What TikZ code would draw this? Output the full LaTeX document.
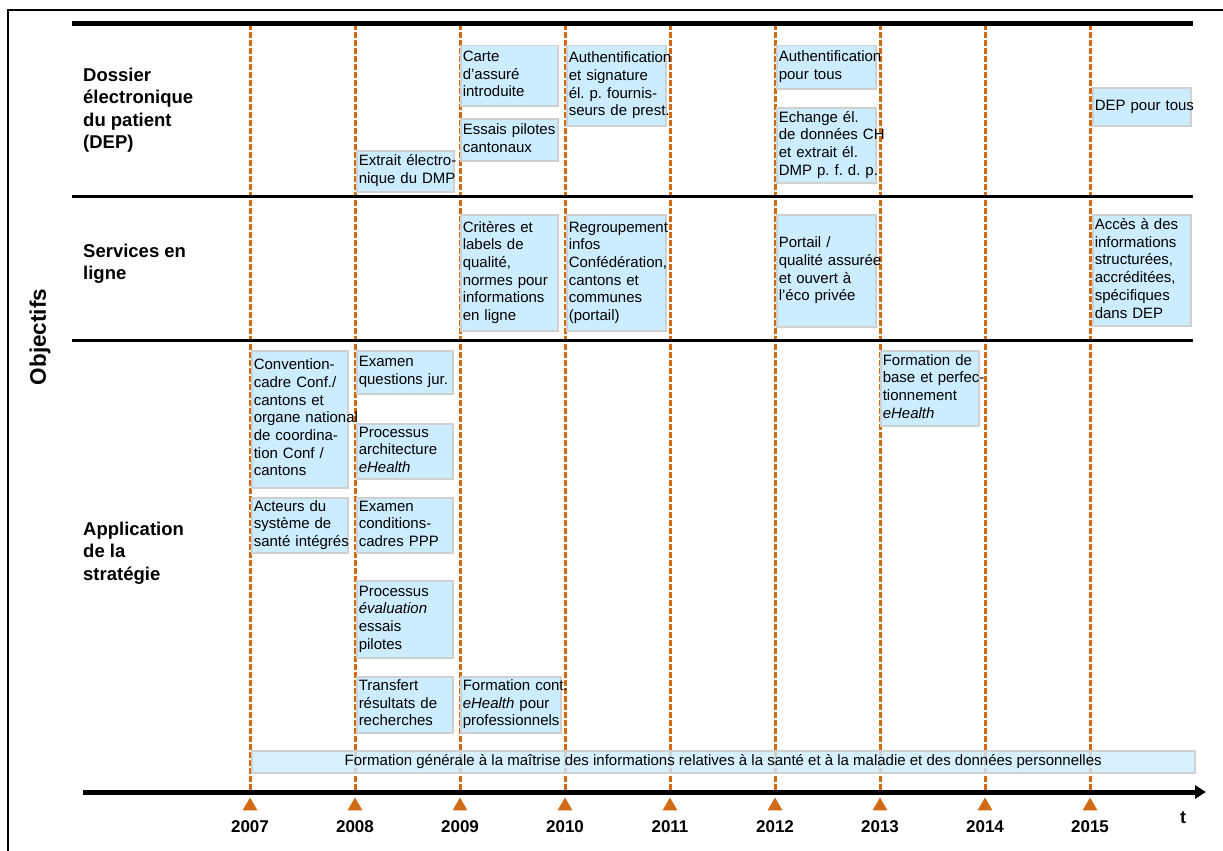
\documentclass[tikz,border=0pt]{standalone}
\usepackage{fontspec}
\setmainfont{Liberation Sans}
\usetikzlibrary{arrows.meta, shapes.geometric}
\definecolor{taskblue}{RGB}{204,236,255}
\definecolor{taskgray}{RGB}{208,208,208}
\definecolor{yearorange}{RGB}{210,105,20}

\begin{document}
\begin{tikzpicture}
[x=1pt, y=-1pt,
 task/.style={draw=taskgray, line width=1.5pt, fill=taskblue, inner xsep=2pt,
  inner ysep=1pt, anchor=north west, align=left,
  font=\fontsize{15}{17.7}\selectfont\frenchspacing},
 row label/.style={anchor=west, inner sep=0pt, align=left,
  font=\fontsize{18.5}{22.5}\selectfont\bfseries},
 year/.style={font=\fontsize{17}{20}\selectfont\bfseries},
 milestone/.style={regular polygon, regular polygon sides=3, fill=yearorange,
  inner sep=0pt, minimum size=17pt},
 grid/.style={yearorange, line width=3pt, dash pattern=on 6pt off 2pt},
 rule/.style={line width=3pt}]
\useasboundingbox (0,0) rectangle (1223,851);
\draw [line width=1.5pt] (8,851) -- (8,10) -- (1223,10);

\coordinate (axis start) at (83,792);
\coordinate (axis end) at (1206,792);

% years
\foreach \yr [count=\n from 0] in {2007,...,2015}{
	\pgfmathsetmacro{\xx}{250+105*\n}
	\coordinate (top \yr) at (\xx,24);
	\node [milestone] (tick \yr) at (\xx,806) {};
	\node [year] (year \yr) at (\xx,827) {\yr};
	\draw [grid] (top \yr) -- (top \yr |- axis start);
}
\draw [line width=5pt, -{Triangle[length=11pt, width=13pt]}] (axis start) -- (axis end);
\node [year, font=\fontsize{18}{20}\selectfont\bfseries] (time) at (1183,818) {t};

% rows
\draw [line width=5pt] (72,24) -- (1193,24);
\draw [rule] (72,196) -- (1193,196);
\draw [rule] (72,340) -- (1193,340);
\node [rotate=90, font=\fontsize{22.5}{26}\selectfont\bfseries] (goals) at (40,337) {Objectifs};
\node [row label] (dep) at (83,110) {Dossier\\électronique\\du patient\\(DEP)};
\node [row label] (online) at (83,264) {Services en\\ligne};
\node [row label] (strategy) at (83,553) {Application\\de la\\stratégie};

% tasks
\foreach \name/\x/\y/\w/\h/\txt in {
	dmp/356/150/97/41/{Extrait électro-\\nique du DMP},
	card/460/45/97/60/{Carte\\d'assuré\\introduite},
	pilots/460/118/97/42/{Essais pilotes\\cantonaux},
	auth/566/45/99/80/{Authentification\\et signature\\él. p. fournis-\\seurs de prest.},
	auth all/776/45/99/43/{Authentification\\pour tous},
	exchange/776/107/99/75/{Echange él.\\de données CH\\et extrait él.\\DMP p. f. d. p.},
	dep all/1092/87/98/38/{DEP pour tous},
	labels/460/214/97/116/{Critères et\\labels de\\qualité,\\normes pour\\informations\\en ligne},
	portal info/566/214/99/116/{Regroupement\\infos\\Confédération,\\cantons et\\communes\\(portail)},
	portal/776/214/99/112/{Portail /\\qualité assurée\\et ouvert à\\l'éco privée},
	access/1092/214/98/111/{Accès à des\\informations\\structurées,\\accréditées,\\spécifiques\\dans DEP},
	convention/251/350/96/137/{Convention-\\cadre Conf./\\cantons et\\organe national\\de coordina-\\tion Conf /\\cantons},
	legal/356/350/96/43/{Examen\\questions jur.},
	architecture/356/423/96/55/{Processus\\architecture\\\emph{eHealth}},
	actors/251/497/96/54/{Acteurs du\\système de\\santé intégrés},
	ppp/356/497/96/55/{Examen\\conditions-\\cadres PPP},
	evaluation/356/580/96/77/{Processus\\\emph{évaluation}\\essais\\pilotes},
	transfer/356/676/96/56/{Transfert\\résultats de\\recherches},
	training/460/676/100/56/{Formation cont.\\\emph{eHealth} pour\\professionnels},
	basic training/880/350/98/75/{Formation de\\base et perfec-\\tionnement\\\emph{eHealth}}%
}{
	\pgfmathsetmacro{\tw}{\w-4}
	\node [task, minimum width=\w, minimum height=\h, text width=\tw pt] (\name) at (\x,\y)
	 {\begin{tabular}{@{}l@{}}\txt\end{tabular}};
}
\node [task, fill opacity=0.8, text opacity=1, align=center, minimum width=943,
 minimum height=22] (general) at (251,750) {Formation générale à la maîtrise des informations relatives à la santé et à la maladie et des données personnelles};
\end{tikzpicture}
\end{document}
